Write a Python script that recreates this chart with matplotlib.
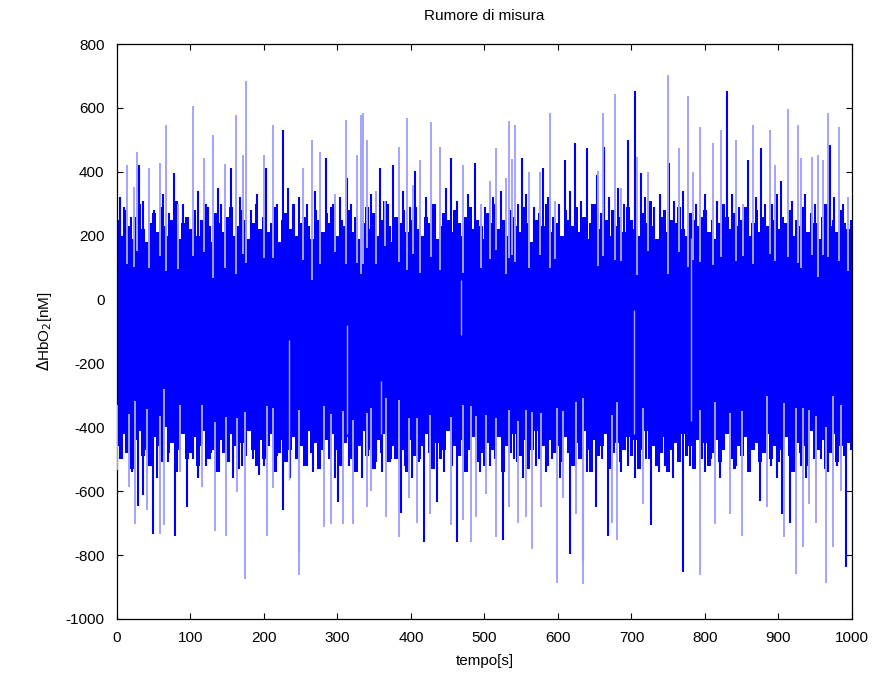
import numpy as np
import matplotlib
matplotlib.use("Agg")
import matplotlib.pyplot as plt

plt.rcParams['font.family'] = ['Liberation Sans', 'DejaVu Sans']
plt.rcParams['axes.unicode_minus'] = False

# dense core of the noise band, edge sampled every 5 s
core_t = np.arange(0, 1001, 5)
core_hi = [250, 200, 280, 230, 190, 260, 300, 220, 180, 240, 270, 210, 290, 230, 200, 250, 310, 190, 240, 260,
           220, 280, 200, 250, 300, 230, 180, 270, 240, 210, 260, 290, 200, 230, 280, 250, 190, 240, 300, 220,
           260, 210, 240, 290, 180, 250, 270, 220, 300, 200, 240, 260, 230, 190, 280, 250, 210, 270, 240, 300,
           200, 250, 230, 280, 210, 260, 190, 240, 290, 220, 270, 200, 250, 310, 230, 180, 260, 240, 280, 210,
           250, 290, 220, 200, 260, 240, 300, 190, 230, 270, 250, 210, 280, 240, 200, 260, 290, 220, 250, 230,
           190, 270, 240, 300, 220, 250, 200, 280, 260, 230, 210, 290, 240, 180, 250, 270, 230, 300, 210, 260,
           240, 200, 280, 250, 230, 290, 210, 260, 190, 240, 300, 220, 270, 250, 200, 280, 230, 260, 210, 290,
           250, 220, 200, 270, 240, 310, 230, 190, 260, 280, 210, 250, 240, 290, 220, 200, 270, 250, 230, 260,
           280, 210, 250, 190, 240, 300, 260, 220, 270, 230, 250, 290, 200, 240, 280, 210, 260, 230, 300, 250,
           220, 260, 240, 280, 200, 250, 230, 290, 210, 270, 240, 190, 260, 300, 230, 250, 210, 280, 240, 220,
           250]
core_lo = [-460, -500, -420, -480, -530, -440, -410, -490, -470, -520, -430, -460, -510, -400, -480, -450, -540, -470, -420, -500,
           -480, -430, -520, -460, -410, -500, -470, -540, -440, -480, -510, -420, -460, -530, -450, -490, -410, -470, -520, -440,
           -500, -460, -420, -540, -480, -440, -510, -470, -430, -500, -460, -520, -410, -480, -450, -530, -470, -440, -500, -420,
           -470, -520, -450, -430, -500, -540, -460, -410, -490, -470, -530, -440, -480, -420, -510, -460, -500, -430, -470, -540,
           -440, -490, -510, -460, -420, -480, -530, -450, -500, -470, -410, -520, -460, -490, -440, -540, -470, -430, -510, -480,
           -520, -450, -470, -500, -430, -540, -460, -480, -420, -510, -490, -440, -530, -470, -410, -500, -460, -520, -440, -480,
           -460, -510, -430, -480, -520, -450, -500, -410, -470, -540, -440, -490, -460, -420, -530, -480, -450, -510, -470, -430,
           -490, -440, -530, -470, -410, -500, -460, -520, -480, -430, -540, -470, -450, -510, -420, -490, -460, -530, -440, -500,
           -450, -520, -480, -440, -510, -470, -420, -500, -530, -460, -490, -430, -540, -470, -450, -510, -480, -420, -500, -460,
           -510, -470, -430, -490, -540, -450, -480, -460, -520, -410, -500, -470, -440, -530, -480, -420, -510, -460, -490, -450,
           -470]

# isolated excursions above the band (single samples)
up_t = [14, 23, 27.7, 44, 58.5, 66.7, 83.5, 103.8, 118, 131, 147, 161.5, 171,
        175.5, 200, 212, 253.5, 265, 276, 296, 311, 326, 332, 335, 340, 352,
        364, 383, 394, 403, 412, 427, 439, 471, 495, 507, 516, 529, 533.7, 538,
        542, 561, 575, 589, 596, 654, 660.8, 677.5, 686, 708, 723, 750, 764,
        777.3, 784, 793, 811, 822, 842.5, 852, 865, 888, 895, 913, 926.5, 930,
        945, 954, 961, 967.7, 982.8, 995]
up_v = [421, 353, 463, 411, 427, 546, 300, 606, 442, 515, 424, 578, 453,
        685, 453, 546, 411, 500, 463, 330, 562, 453, 578, 585, 500, 340,
        310, 479, 567, 360, 437, 556, 479, 421, 300, 370, 474, 380, 560, 440,
        546, 400, 400, 585, 310, 404, 585, 643, 350, 447, 400, 703, 474,
        637, 400, 541, 489, 531, 500, 300, 546, 531, 421, 596, 546, 442,
        447, 453, 437, 585, 541, 320]

# overlapping excursions above the band
upd_t = [4, 9, 19, 30, 36, 50, 63, 71, 78, 90, 97, 110, 124, 137, 142, 154.6,
         167, 182, 190, 203, 218, 225.5, 232, 240, 247, 259, 270, 285, 291,
         304, 313, 319, 346, 358.5, 369, 375, 389, 398, 405.5, 420, 433, 447,
         455, 462, 477, 487, 501, 511, 523, 546, 551.5, 557, 568, 580, 586,
         601, 609.5, 616, 623, 631, 640, 646, 652.6, 662.5, 670, 682, 690,
         695, 704.7, 713, 718, 730, 739, 751.5, 758, 770, 788, 800, 816, 830,
         837, 846, 858.5, 870, 875.6, 882, 898, 903, 919, 936, 950, 970, 976,
         988]
upd_v = [322, 290, 260, 421, 310, 280, 330, 270, 397, 300, 260, 340, 290,
         350, 300, 411, 320, 280, 330, 411, 300, 531, 350, 290, 320, 300, 340,
         442, 290, 320, 380, 300, 330, 411, 300, 421, 340, 290, 403, 320, 300,
         350, 442, 310, 330, 427, 290, 320, 340, 300, 442, 330, 290, 411, 320,
         300, 437, 340, 489, 310, 474, 300, 390, 479, 320, 350, 300, 500, 654,
         395, 320, 290, 330, 427, 310, 340, 300, 330, 310, 654, 330, 290, 437,
         320, 474, 300, 330, 370, 310, 330, 300, 484, 320, 300]

# isolated excursions below the band
dn_t = [0, 15.9, 24.5, 40.4, 58.5, 64.5, 86, 115, 133, 148, 163, 174, 204.5,
        212, 248, 281, 290.7, 308, 321, 339.7, 345, 366, 384, 397, 407.7, 426,
        454, 471, 481, 489, 502, 515, 534, 545, 557, 564, 577, 598, 607, 625,
        633.5, 674, 680, 715, 793, 813.5, 834, 851, 884, 907, 924, 933, 942,
        951, 965, 974, 985]
dn_v = [-535, -587, -702, -660, -733, -707, -540, -587, -723, -739, -603,
        -875, -739, -590, -861, -713, -702, -702, -702, -650, -600, -681,
        -744, -620, -700, -670, -707, -690, -760, -680, -610, -744, -650,
        -700, -680, -780, -650, -888, -620, -670, -891, -700, -754, -640,
        -861, -702, -670, -739, -650, -744, -858, -775, -640, -700, -888,
        -775, -600]

# overlapping excursions below the band
dnd_t = [6, 12, 20, 29, 35, 44, 48.5, 55, 70, 78.9, 95, 103, 110, 121, 128,
         139, 152, 158, 170, 185, 193, 200, 218, 225.5, 236, 248, 258, 266,
         274, 296, 301, 315, 327, 333, 352, 360, 373, 387, 392, 402, 412,
         417.7, 430, 435, 445, 462, 476, 494, 508, 525, 540, 552, 570, 583,
         592, 603, 616, 633.5, 640, 651.7, 660, 668.5, 686, 695, 705, 720,
         726, 737, 746, 756, 770, 780, 800, 808, 820, 842, 860, 875, 890, 898,
         905, 915, 930, 938, 958, 968, 980, 992]
dnd_v = [-500, -480, -540, -645, -613, -520, -733, -560, -510, -739, -650,
         -500, -560, -520, -480, -540, -510, -560, -520, -500, -550, -520,
         -490, -660, -560, -790, -520, -540, -500, -560, -634, -520, -500,
         -560, -510, -540, -500, -668, -520, -560, -500, -760, -520, -634,
         -540, -760, -500, -540, -520, -754, -500, -560, -520, -540, -500,
         -560, -796, -817, -540, -650, -500, -739, -540, -520, -560, -500,
         -707, -540, -520, -560, -852, -520, -540, -500, -560, -520, -540,
         -630, -520, -560, -670, -700, -520, -560, -500, -540, -520, -838]

# long single-sample segments crossing the band
mid_t = [234, 312.5, 358.7, 467.6, 703.8, 780.5]
mid_top = [-127, -80, -255, 60, -34, 193]
mid_bot = [-565, -420, -420, -110, -420, -380]

blue = '#0000ff'
light = '#a3a3ff'

fig = plt.figure(figsize=(8.75, 6.83), dpi=100)
ax = fig.add_axes([117 / 875, 1 - 619 / 683, 735 / 875, 575 / 683])

ax.fill_between(core_t, core_lo, core_hi, step='mid', color=blue, lw=0, zorder=2)
ax.vlines(upd_t, 100, upd_v, color=blue, lw=1.5, zorder=2)
ax.vlines(dnd_t, -300, dnd_v, color=blue, lw=1.5, zorder=2)

# light strokes dip into the band, following its edge
up_base = np.interp(up_t, core_t, core_hi) - 130
dn_base = np.interp(dn_t, core_t, core_lo) + 130
ax.vlines(up_t, up_base, up_v, color=light, lw=1.4, zorder=3)
ax.vlines(dn_t, dn_base, dn_v, color=light, lw=1.4, zorder=3)
ax.vlines(mid_t, mid_bot, mid_top, color=light, lw=1.0, zorder=3)

ax.set_xlim(0, 1000)
ax.set_ylim(-1000, 800)
ax.set_xticks(np.arange(0, 1001, 100))
ax.set_yticks(np.arange(-1000, 801, 200))
ax.tick_params(direction='in', top=True, right=True, length=4, width=0.8,
               labelsize=11, pad=9)
for s in ax.spines.values():
    s.set_linewidth(0.9)

ax.set_title('Rumore di misura', fontsize=11, pad=17)
ax.set_xlabel('tempo[s]', fontsize=11, labelpad=6)
ax.set_ylabel(r'$\Delta$HbO$_2$[nM]', fontsize=11, labelpad=8)

fig.savefig('out.png', dpi=100)
